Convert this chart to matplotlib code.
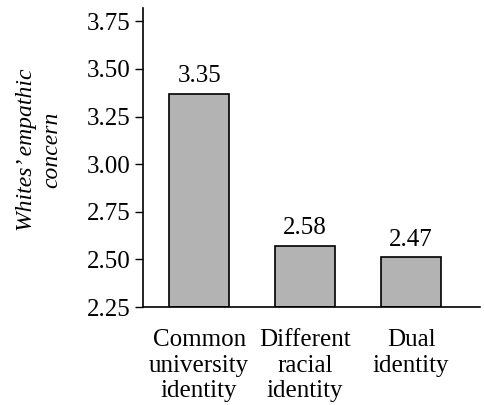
import matplotlib
matplotlib.use("Agg")
import matplotlib.pyplot as plt

categories = ["Common\nuniversity\nidentity", "Different\nracial\nidentity", "Dual\nidentity"]
bar_heights = [3.37, 2.57, 2.51]
value_labels = ["3.35", "2.58", "2.47"]
yticks = [2.25, 2.50, 2.75, 3.00, 3.25, 3.50, 3.75]
ytick_labels = ["2.25", "2.50", "2.75", "3.00", "3.25", "3.50", "3.75"]

plt.rcParams['font.family'] = ['Liberation Serif', 'DejaVu Serif']

fig = plt.figure(figsize=(4.84, 4.05), dpi=100)
ax = fig.add_axes([143/484, 1-307/405, (480-143)/484, (307-8)/405])

x = list(range(len(categories)))
bars = ax.bar(x, [h - 2.25 for h in bar_heights], bottom=2.25, width=0.565,
              color="#b3b3b3", edgecolor="black", linewidth=1.2)
for xi, h, lab in zip(x, bar_heights, value_labels):
    ax.text(xi, h + 0.035, lab, ha="center", va="bottom", fontsize=18)

ax.set_xlim(-0.53, 2.65)
ax.set_ylim(2.25, 3.82)
ax.set_yticks(yticks)
ax.set_yticklabels(ytick_labels, fontsize=18)
ax.set_xticks(x)
ax.set_xticklabels(categories, fontsize=18, linespacing=1.2)
ax.tick_params(axis="x", length=0, pad=16)
ax.tick_params(axis="y", direction="out", length=6, width=1.0, pad=3)

for s in ["top", "right"]:
    ax.spines[s].set_visible(False)
for s in ["left", "bottom"]:
    ax.spines[s].set_linewidth(1.2)

fig.text(39/484, 1-150/405, "Whites’ empathic\nconcern", rotation=90, ha="center", va="center",
         fontsize=17, style="italic", linespacing=1.25)

fig.savefig("out.png", dpi=100)
